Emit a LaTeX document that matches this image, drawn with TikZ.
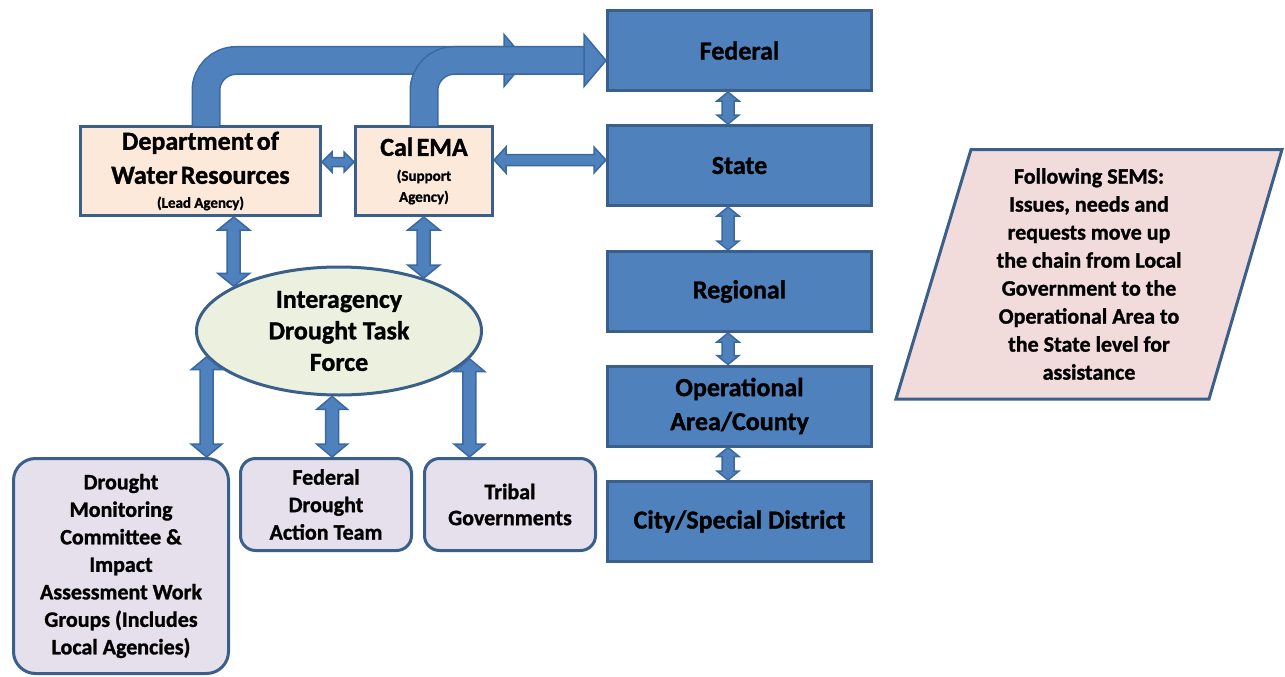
\documentclass[tikz,border=0pt]{standalone}
\usepackage{fontspec}
\setmainfont{Carlito}[BoldFeatures={FakeBold=1.2}]
\usetikzlibrary{calc,shapes.geometric}
\definecolor{bluef}{HTML}{4F81BD}
\definecolor{bordc}{HTML}{3A5F8B}
\definecolor{arrb}{HTML}{3B68A0}
\definecolor{peachf}{HTML}{FDE9D9}
\definecolor{lavf}{HTML}{E5E0EC}
\definecolor{ellf}{HTML}{EBF1DE}
\definecolor{pinkf}{HTML}{F2DCDB}
\newcommand\bigf{\fontsize{26}{32}\selectfont\bfseries}
\newcommand\midf{\fontsize{22}{27.5}\selectfont\bfseries}
% vertical double block arrow: #1 upper point, #2 lower point
\newcommand\vdarrow[5]{%
  \path[blockarrow] let \p1=(#1), \p2=(#2) in
   (\x1,\y1) -- (\x1+#4,\y1-#5) -- (\x1+#3,\y1-#5) -- (\x1+#3,\y2+#5) --
   (\x1+#4,\y2+#5) -- (\x1,\y2) -- (\x1-#4,\y2+#5) -- (\x1-#3,\y2+#5) --
   (\x1-#3,\y1-#5) -- (\x1-#4,\y1-#5) -- cycle;}
% horizontal double block arrow: #1 left point, #2 right point
\newcommand\hdarrow[5]{%
  \path[blockarrow] let \p1=(#1), \p2=(#2) in
   (\x1,\y1) -- (\x1+#5,\y1+#4) -- (\x1+#5,\y1+#3) -- (\x2-#5,\y1+#3) --
   (\x2-#5,\y1+#4) -- (\x2,\y1) -- (\x2-#5,\y1-#4) -- (\x2-#5,\y1-#3) --
   (\x1+#5,\y1-#3) -- (\x1+#5,\y1-#4) -- cycle;}
\tikzset{
  blockarrow/.style={fill=bluef, draw=arrb, line width=1.5pt, line join=miter},
  pipeo/.style={draw=arrb, line width=29pt, rounded corners=30pt},
  pipei/.style={draw=bluef, line width=26pt, rounded corners=30pt},
  lvl/.style={draw=bordc, line width=3pt, fill=bluef, minimum width=264pt,
    minimum height=80pt, inner sep=0pt, align=center, font=\bigf},
  agency/.style={draw=bordc, line width=3pt, fill=peachf, minimum height=89pt,
    inner sep=0pt, align=center},
  group/.style={draw=bordc, line width=3pt, fill=lavf, inner sep=0pt,
    align=center, font=\midf},
  taskforce/.style={ellipse, draw=bordc, line width=3pt, fill=ellf,
    minimum width=285pt, minimum height=128pt, inner sep=0pt, align=center,
    font=\fontsize{26}{31.5}\selectfont\bfseries},
  note/.style={draw=bordc, line width=3pt, fill=pinkf}
}
\begin{document}
\begin{tikzpicture}[x=1pt,y=-1pt]
\useasboundingbox[fill=white] (0,0) rectangle (1285,677);
% right column
\node[lvl] (fed) at (739.5,50.5) {Federal};
\node[lvl] (state) at (739.5,165.5) {State};
\node[lvl] (reg) at (739.5,291.5) {Regional};
\node[lvl, font=\fontsize{26}{34}\selectfont\bfseries] (oper) at (739.5,406) {Operational\\Area/County};
\node[lvl] (city) at (739.5,521.5) {City/Special District};
% agencies
\node[agency, minimum width=240pt, text width=236pt] (dept) at (200.5,171)
  {\fontsize{26}{34}\selectfont\bfseries Department of\\Water Resources\par
   \fontsize{15}{24}\selectfont\bfseries (Lead Agency)\par};
\node[agency, minimum width=137pt, text width=133pt] (cal) at (424,171)
  {\fontsize{26}{32}\selectfont\bfseries Cal EMA\par\vspace{4pt}
   \fontsize{15}{21}\selectfont\bfseries (Support\\Agency)\par};
% task force
\node[taskforce] (ell) at (339,331) {Interagency\\Drought Task\\Force};
% groups
\node[group, rounded corners=22pt, minimum width=215pt, minimum height=215pt] (dm) at (121,566)
  {Drought\\Monitoring\\Committee \&\\Impact\\Assessment Work\\Groups (Includes\\Local Agencies)};
\node[group, rounded corners=15pt, minimum width=171pt, minimum height=92pt] (fdat) at (326,504.5)
  {Federal\\Drought\\Action Team};
\node[group, rounded corners=15pt, minimum width=171pt, minimum height=92pt, font=\fontsize{22}{26}\selectfont\bfseries] (tribal) at (510,504.5)
  {Tribal\\Governments};
% SEMS note
\coordinate (n1) at (896,399);
\coordinate (n2) at (971,149.5);
\coordinate (n3) at (1282,149.5);
\coordinate (n4) at (1209,399);
\draw[note] (n1) -- (n2) -- (n3) -- (n4) -- cycle;
\node[align=center, font=\fontsize{22}{28}\selectfont\bfseries] (sems) at (1089,274)
  {Following SEMS:\\Issues, needs and\\requests move up\\the chain from Local\\Government to the\\Operational Area to\\the State level for\\assistance};
% top pipes
\coordinate (t1) at (526,60.5);
\coordinate (h1) at ([xshift=-21pt]t1);
\coordinate (t2) at ([yshift=-10pt]fed.west);
\coordinate (h2) at ([xshift=-21pt]t2);
\draw[pipeo] ([xshift=5.5pt]dept.north) |- (h1);
\draw[pipei] ([xshift=5.5pt,yshift=-1pt]dept.north) |- (h1);
\path[blockarrow] (t1) -- ++(-22,-26) -- ++(0,52) -- cycle;
\draw[pipeo] (cal.north) |- (h2);
\draw[pipei] ([yshift=-1pt]cal.north) |- (h2);
\path[blockarrow] (t2) -- ++(-22,-26) -- ++(0,52) -- cycle;
% horizontal arrows
\hdarrow{[yshift=9pt]dept.east}{[yshift=9pt]cal.west}{4.5pt}{10pt}{10pt}
\hdarrow{[yshift=11pt]cal.east}{[yshift=11pt]state.west}{5.5pt}{13pt}{12pt}
% agency <-> task force
\vdarrow{dept.south -| ell.157.8}{ell.157.8}{6.5pt}{16pt}{13pt}
\vdarrow{cal.south -| ell.32.86}{ell.32.86}{6.5pt}{16pt}{13pt}
% task force <-> groups
\vdarrow{ell.191.64}{ell.191.64 |- dm.north}{6.5pt}{15.5pt}{13pt}
\vdarrow{ell.264.1}{ell.264.1 |- fdat.north}{6.5pt}{15.5pt}{13pt}
\vdarrow{ell.348.36}{ell.348.36 |- tribal.north}{6.5pt}{15.5pt}{13pt}
% level chain
\vdarrow{[xshift=-11.5pt]fed.south}{[xshift=-11.5pt]state.north}{6pt}{11pt}{9pt}
\vdarrow{[xshift=-11.5pt]state.south}{[xshift=-11.5pt]reg.north}{6pt}{11pt}{9pt}
\vdarrow{[xshift=-11.5pt]reg.south}{[xshift=-11.5pt]oper.north}{6pt}{11pt}{9pt}
\vdarrow{[xshift=-11.5pt]oper.south}{[xshift=-11.5pt]city.north}{6pt}{11pt}{9pt}
\end{tikzpicture}
\end{document}
